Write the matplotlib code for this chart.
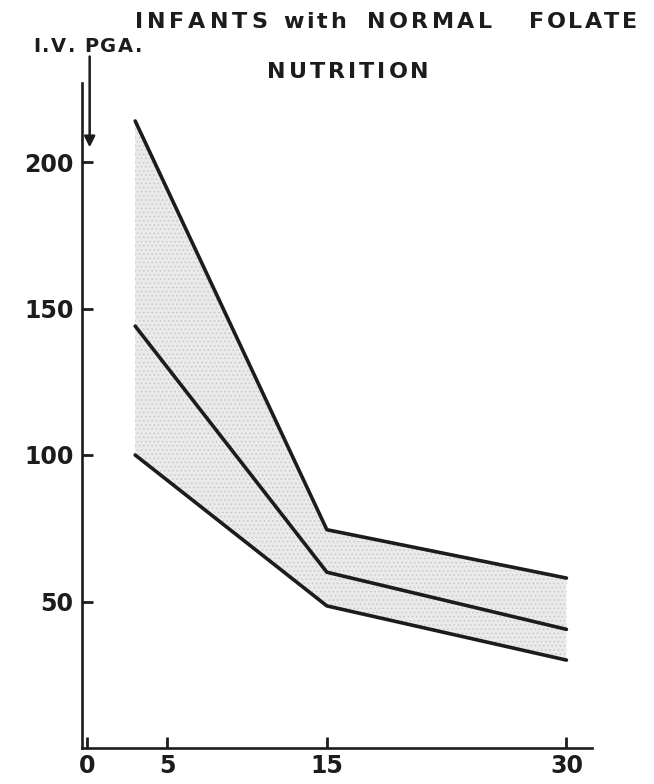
import matplotlib
matplotlib.use("Agg")
import matplotlib.pyplot as plt

# Days after the intravenous dose and the plotted serum levels
days = [3, 15, 30]
upper_limit = [214, 74.5, 58]
mean_level = [144, 60, 40.5]
lower_limit = [100, 48.5, 30]

x_ticks = [0, 5, 15, 30]
y_ticks = [50, 100, 150, 200]

title_words = ["INFANTS", "with", "NORMAL", "FOLATE"]
title_line2 = "NUTRITION"
dose_label = "I.V. PGA."

INK = "#1c1c1c"
FONT = "DejaVu Sans"

W, H = 654, 784
fig = plt.figure(figsize=(W / 100, H / 100), dpi=100)
fig.patch.set_facecolor("white")

# axes box in pixels
left_px, right_px = 82, 592
bottom_px, top_px = 748, 748 - 250 * 2.93
ax = fig.add_axes([left_px / W, (H - bottom_px) / H,
                   (right_px - left_px) / W, (bottom_px - top_px) / H])
ax.set_xlim(-0.33, 31.6)
ax.set_ylim(0, 250)
ax.set_facecolor("none")

# shaded range between the limits
plt.rcParams["hatch.linewidth"] = 0.5
ax.fill_between(days, lower_limit, upper_limit, facecolor="#eaeaea",
                edgecolor="none", linewidth=0, zorder=1)
ax.fill_between(days, lower_limit, upper_limit, facecolor="none",
                edgecolor="#c4c4c4", hatch="....", linewidth=0, zorder=1.5)

for series in (upper_limit, mean_level, lower_limit):
    ax.plot(days, series, color=INK, lw=2.6, solid_capstyle="round",
            solid_joinstyle="round", zorder=3)

# axes
for side in ("top", "right"):
    ax.spines[side].set_visible(False)
for side in ("left", "bottom"):
    ax.spines[side].set_linewidth(1.9)
    ax.spines[side].set_color(INK)
ax.spines["left"].set_bounds(0, 227)

ax.set_xticks(x_ticks)
ax.set_xticklabels([str(v) for v in x_ticks])
ax.set_yticks(y_ticks)
ax.set_yticklabels([str(v) for v in y_ticks])
ax.tick_params(direction="in", length=8, width=2.0, color=INK,
               labelsize=17, labelcolor=INK)
ax.tick_params(axis="y", pad=6)
ax.tick_params(axis="x", pad=4)
for lab in ax.get_xticklabels() + ax.get_yticklabels():
    lab.set_fontweight("bold")
    lab.set_fontfamily(FONT)

# dose arrow at time zero
ax.annotate("", xy=(0.15, 205), xytext=(0.15, 236),
            arrowprops=dict(arrowstyle="-|>", lw=1.8, color=INK,
                            mutation_scale=16, shrinkA=0, shrinkB=0),
            annotation_clip=False)

renderer = fig.canvas.get_renderer()


def spaced_text(s, x_left, x_right, baseline, size):
    """Draw s letter by letter, spread evenly between x_left and x_right (px)."""
    pieces = []
    for ch in s:
        t = fig.text(0, 0, ch, fontsize=size, fontweight="bold", family=FONT,
                     color=INK, ha="left", va="baseline")
        w = t.get_window_extent(renderer).width if ch.strip() else size * 0.35
        pieces.append((t, w))
    total = sum(w for _, w in pieces)
    gap = (x_right - x_left - total) / max(len(s) - 1, 1)
    x = x_left
    for t, w in pieces:
        t.set_position((x / W, 1 - baseline / H))
        x += w + gap


spaced_text(dose_label, 33, 142, 52, 14)

word_spans = [(135, 267), (283, 346), (367, 492), (529, 637)]
for (xl, xr), word in zip(word_spans, title_words):
    spaced_text(word, xl, xr, 28, 16)
spaced_text(title_line2, 267, 429, 78, 16)

fig.savefig("out.png", dpi=100, facecolor="white")
